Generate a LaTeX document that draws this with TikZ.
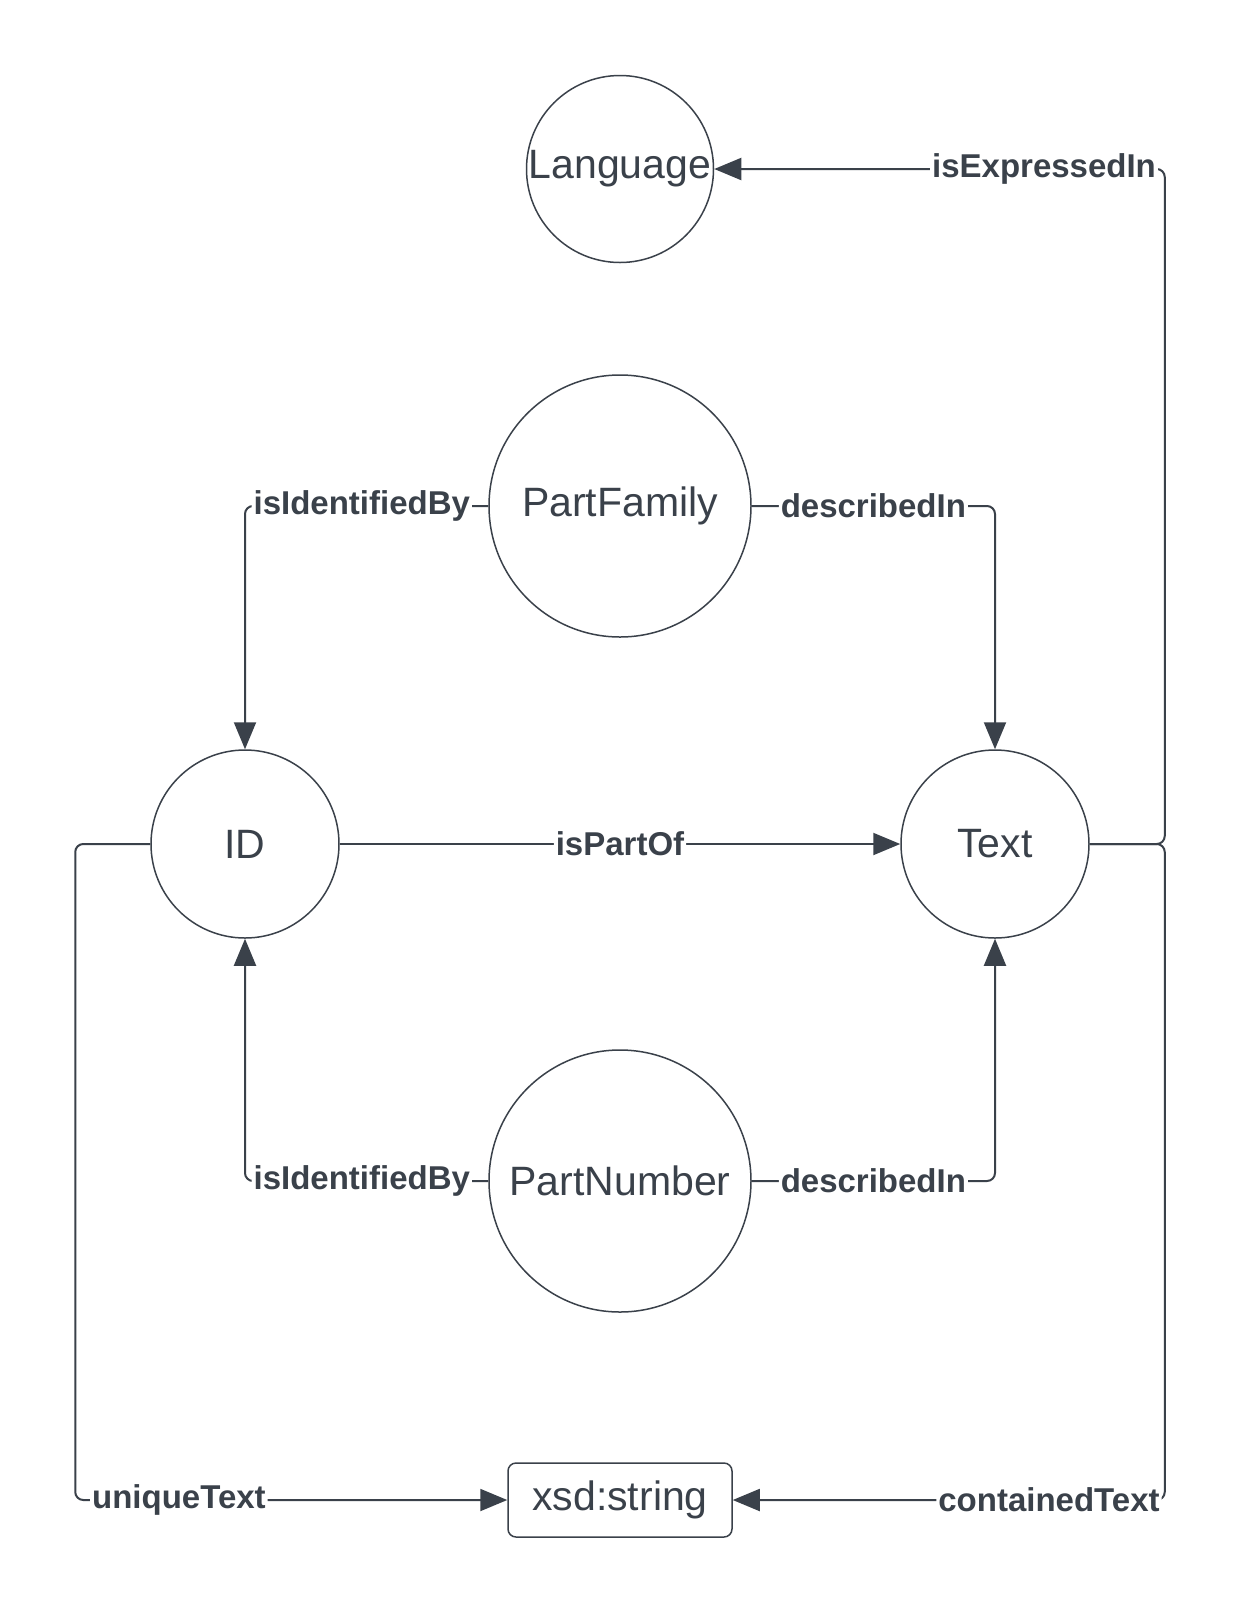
\documentclass[tikz,border=0pt]{standalone}
\usepackage{fontspec}
\setmainfont{Liberation Sans}
\usetikzlibrary{arrows.meta}
\definecolor{ink}{HTML}{3A414A}
\begin{document}
\begin{tikzpicture}[x=0.5pt, y=-0.5pt,
    concept/.style ={circle, draw=ink, line width=0.75pt, inner sep=0pt, text=ink, font=\fontsize{20.5}{24}\selectfont},
    literal/.style ={rectangle, rounded corners=4pt, draw=ink, line width=0.75pt, minimum width=112pt, minimum height=37pt, text=ink, font=\fontsize{20.5}{24}\selectfont},
    relation/.style ={draw=ink, line width=1pt, rounded corners=4pt, -{Triangle[length=13.5pt,width=11pt]}},
    edgetext/.style ={fill=white, inner sep=1pt, text=ink, font=\fontsize{16.5}{20}\selectfont\bfseries}]
   \useasboundingbox (0,0) rectangle (1241,1613);
   \node[concept, minimum size=93.5pt] (L)  at (620,169)  {Language};
   \node[concept, minimum size=131pt] (PF) at (620,506)  {PartFamily};
   \node[concept, minimum size=94pt] (ID) at (245,844)  {ID};
   \node[concept, minimum size=94pt] (T)  at (995,844)  {Text};
   \node[concept, minimum size=131pt] (PN) at (620,1181) {PartNumber};
   \node[literal] (S)  at (620,1500) {xsd:string};
   \draw[relation] (PF.west) -| node[edgetext, pos=0.26] {isIdentifiedBy} (ID.north);
   \draw[relation] (PF.east) -| node[edgetext, pos=0.25] {describedIn} (T.north);
   \draw[relation] (PN.west) -| node[edgetext, pos=0.26] {isIdentifiedBy} (ID.south);
   \draw[relation] (PN.east) -| node[edgetext, pos=0.25] {describedIn} (T.south);
   \draw[relation] (ID) -- node[edgetext] {isPartOf} (T);
   \draw[relation] (ID.west) -- ++(-75,0) |- node[edgetext, pos=0.62] {uniqueText} (S.west);
   \draw[relation] (T.east) -- ++(75,0) |- node[edgetext, pos=0.634] {containedText} (S.east);
   \draw[relation] (T.east) -- ++(75,0) |- node[edgetext, pos=0.634] {isExpressedIn} (L.east);
 \end{tikzpicture}
\end{document}
